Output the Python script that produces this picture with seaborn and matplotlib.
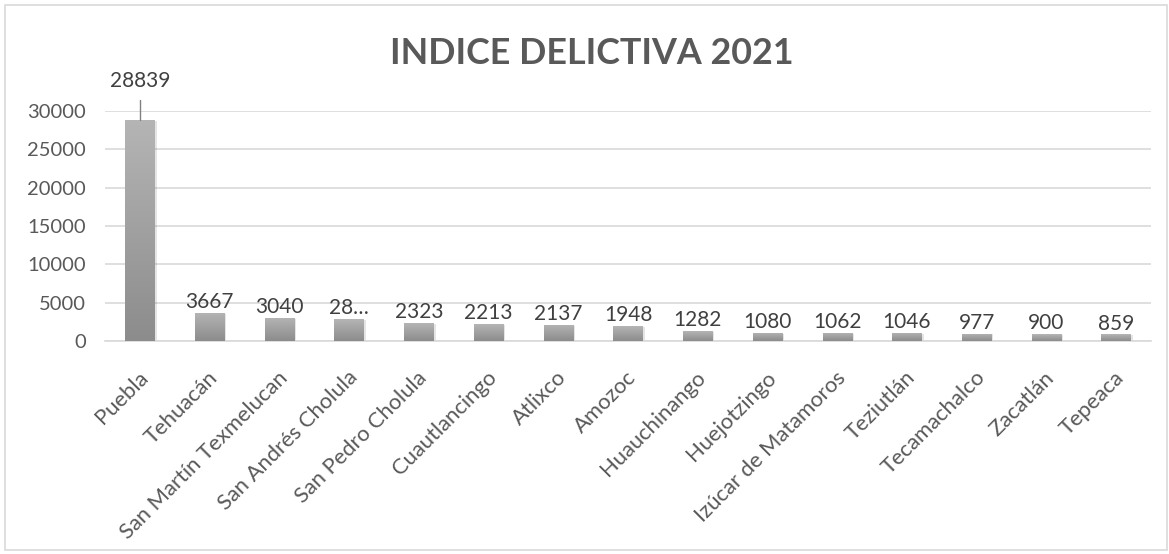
import numpy as np
import pandas as pd
import matplotlib
matplotlib.use("Agg")
import matplotlib.pyplot as plt
import matplotlib.transforms as mtrans
import seaborn as sns
from matplotlib.patches import Rectangle

municipios = ["Puebla", "Tehuacán", "San Martín Texmelucan", "San Andrés Cholula",
              "San Pedro Cholula", "Cuautlancingo", "Atlixco", "Amozoc", "Huauchinango",
              "Huejotzingo", "Izúcar de Matamoros", "Teziutlán", "Tecamachalco",
              "Zacatlán", "Tepeaca"]
delitos = [28839, 3667, 3040, 2850, 2323, 2213, 2137, 1948, 1282, 1080, 1062, 1046, 977, 900, 859]
etiquetas = ["28839", "3667", "3040", "28…", "2323", "2213", "2137", "1948", "1282",
             "1080", "1062", "1046", "977", "900", "859"]
yticks = [0, 5000, 10000, 15000, 20000, 25000, 30000]

df = pd.DataFrame({"municipio": municipios, "delitos": delitos})

sns.set_theme(style="white")
plt.rcParams["font.family"] = ["Lato", "DejaVu Sans"]
txt = "#595959"

W, H = 1169, 554
fig = plt.figure(figsize=(W / 100, H / 100), dpi=100)
ax = fig.add_axes([105 / W, 1 - 341 / H, (1151 - 105) / W, (341 - 111) / H])

sns.barplot(data=df, x="municipio", y="delitos", color="#a0a0a0", width=0.42,
            ax=ax, zorder=3)

# vertical gradient on each bar (darker at the bottom, like the Excel fill)
grad = np.linspace(0, 1, 256).reshape(-1, 1)
cmap = matplotlib.colors.LinearSegmentedColormap.from_list("g", ["#8c8c8c", "#b5b5b5"])
for p in ax.patches:
    x0, w, h = p.get_x(), p.get_width(), p.get_height()
    # soft shadow
    ax.add_patch(Rectangle((x0 + 0.03, -120), w, h, color="#000000", alpha=0.10,
                           zorder=2, lw=0))
    p.set_facecolor("none")
    p.set_edgecolor("none")
    im = ax.imshow(grad, extent=[x0, x0 + w, 0, h], origin="lower", cmap=cmap,
                   aspect="auto", zorder=3.5)
    im.set_clip_path(p)

ax.set_xlim(-0.5, len(municipios) - 0.5)
ax.set_ylim(0, 30000)
ax.set_yticks(yticks)
ax.set_yticklabels([str(v) for v in yticks], fontsize=14.5, color=txt)
ax.tick_params(axis="y", length=0, pad=13.5)
ax.tick_params(axis="x", length=0, pad=19)
ax.set_xticks(range(len(municipios)))
ax.set_xticklabels(municipios, rotation=45, ha="right", rotation_mode="anchor",
                   fontsize=15.8, color=txt)
shift = mtrans.ScaledTranslation(-2 / 100, 0, fig.dpi_scale_trans)
for lab in ax.get_xticklabels():
    lab.set_transform(lab.get_transform() + shift)
ax.set_xlabel("")
ax.set_ylabel("")
ax.grid(axis="y", color="#d9d9d9", lw=1.2, zorder=0)
for s in ["top", "right", "left"]:
    ax.spines[s].set_visible(False)
ax.spines["bottom"].set_color("#d9d9d9")
ax.spines["bottom"].set_linewidth(1.2)

# data labels
for i, (v, lab) in enumerate(zip(delitos, etiquetas)):
    if i == 0:
        ax.plot([i, i], [v, 31500], color="#808080", lw=1, zorder=4, clip_on=False)
        ax.text(i, 32600, lab, ha="center", va="bottom", fontsize=15, color="#404040",
                clip_on=False)
    else:
        ax.text(i, v + 100, lab, ha="center", va="bottom", fontsize=15, color="#404040")

fig.text(592 / W, 1 - 53 / H, "INDICE DELICTIVA 2021", ha="center", va="center",
         fontsize=25.8, fontweight="bold", color=txt)

fig.patches.append(Rectangle((5 / W, 4 / H), 1162 / W, 545 / H,
                             transform=fig.transFigure, fill=False,
                             edgecolor="#d9d9d9", lw=1.2))

fig.savefig("out.png", dpi=100)
